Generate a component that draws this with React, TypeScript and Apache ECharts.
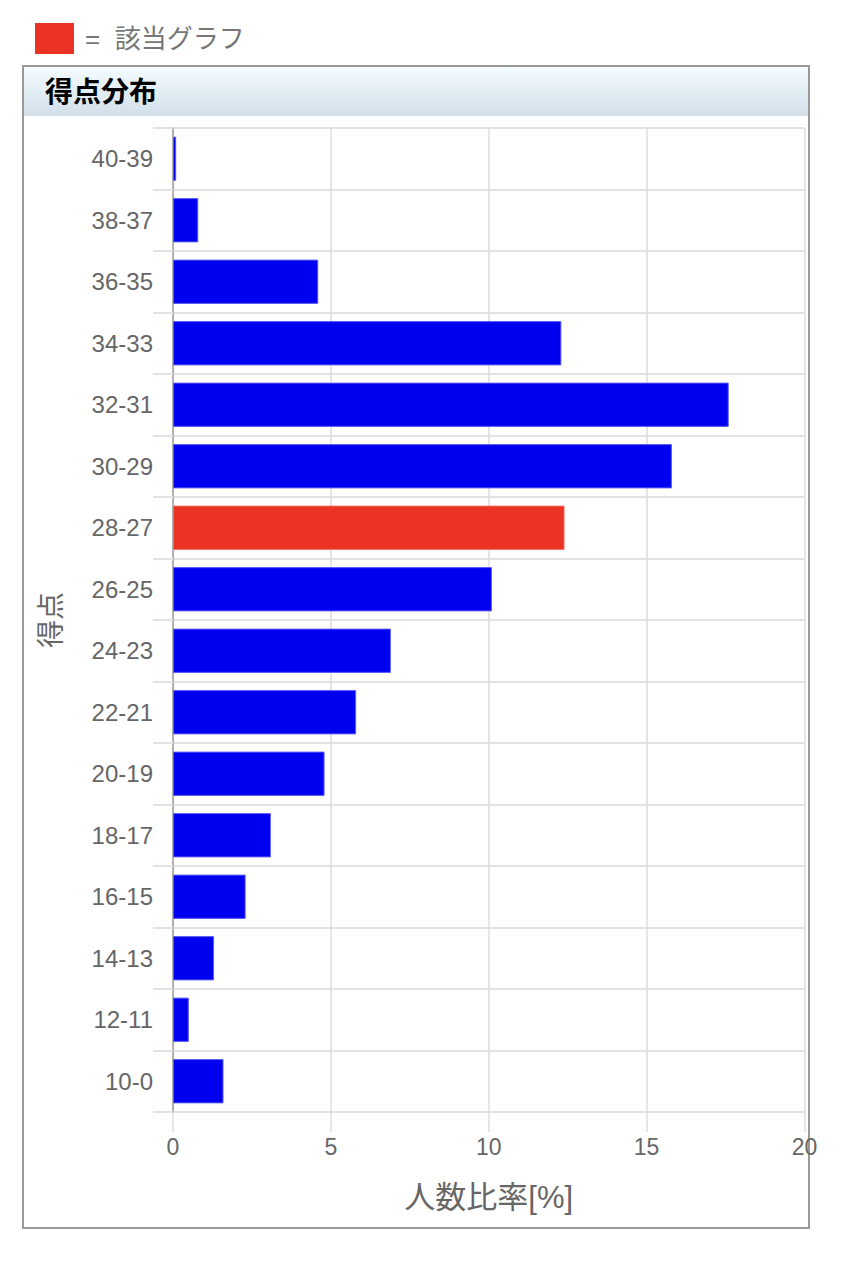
import React, { useEffect, useRef } from "react";
import * as echarts from "echarts";

const categories = [
  "40-39", "38-37", "36-35", "34-33", "32-31", "30-29", "28-27", "26-25",
  "24-23", "22-21", "20-19", "18-17", "16-15", "14-13", "12-11", "10-0",
];
const ratios = [0.1, 0.8, 4.6, 12.3, 17.6, 15.8, 12.4, 10.1, 6.9, 5.8, 4.8, 3.1, 2.3, 1.3, 0.5, 1.6];
const highlighted = "28-27";
const xTicks = { min: 0, max: 20, interval: 5 };
const titleText = "得点分布";
const legendText = "=  該当グラフ";
const xName = "人数比率[%]";
const yName = "得点";

const BLUE = "#0000f0";
const RED = "#ea3323";
const FONT = "'Liberation Sans', 'Noto Sans CJK JP', sans-serif";

export default function App() {
  const ref = useRef<HTMLDivElement>(null);
  useEffect(() => {
    if (!ref.current) return;
    const chart = echarts.init(ref.current, undefined, { renderer: "svg" });
    chart.setOption({
      animation: false,
      textStyle: { fontFamily: FONT },
      graphic: [
        { type: "rect", shape: { x: 35, y: 23, width: 39, height: 31 }, style: { fill: RED } },
        {
          type: "text", x: 85, y: 39,
          style: { text: legendText, fill: "#777", font: `26px ${FONT}`, textVerticalAlign: "middle" },
        },
        {
          type: "rect", z: -10,
          shape: { x: 23, y: 66, width: 786, height: 1162 },
          style: { fill: "#fff", stroke: "#999", lineWidth: 2 },
        },
        {
          type: "rect", z: -9,
          shape: { x: 24, y: 67, width: 784, height: 49 },
          style: {
            fill: new echarts.graphic.LinearGradient(0, 0, 0, 1, [
              { offset: 0, color: "#f4fcfe" },
              { offset: 1, color: "#d2dfea" },
            ]),
          },
        },
        {
          type: "text", x: 45, y: 92,
          style: { text: titleText, fill: "#000", font: `bold 28px ${FONT}`, textVerticalAlign: "middle" },
        },
      ],
      grid: { left: 173, top: 128, width: 631.5, height: 984, containLabel: false },
      xAxis: {
        type: "value",
        min: xTicks.min,
        max: xTicks.max,
        interval: xTicks.interval,
        name: xName,
        nameLocation: "middle",
        nameGap: 70,
        nameTextStyle: { fontSize: 31, color: "#666", fontFamily: FONT },
        axisLine: { show: false },
        axisTick: { show: true, length: 20, lineStyle: { color: "#dcdcdc", width: 1.5 } },
        axisLabel: { fontSize: 23, color: "#666", margin: 23, fontFamily: FONT },
        splitLine: { show: true, lineStyle: { color: "#dcdcdc", width: 1.5 } },
      },
      yAxis: {
        type: "category",
        inverse: true,
        data: categories,
        name: yName,
        nameLocation: "middle",
        nameGap: 108,
        nameTextStyle: { fontSize: 28, color: "#666", fontFamily: FONT },
        axisLine: { show: true, lineStyle: { color: "#a0a0a0", width: 1.5 } },
        axisTick: { show: true, length: 20, lineStyle: { color: "#e2e2e2", width: 2 } },
        axisLabel: { fontSize: 24, color: "#666", margin: 20, fontFamily: FONT },
        splitLine: { show: true, lineStyle: { color: "#e2e2e2", width: 2 } },
      },
      series: [
        {
          type: "bar",
          barCategoryGap: "28%",
          data: categories.map((c, i) => ({
            value: ratios[i],
            itemStyle: {
              color: c === highlighted ? RED : BLUE,
              borderColor: c === highlighted ? "#f06a5e" : "#5a5af2",
              borderWidth: 1,
            },
          })),
        },
      ],
    });
    return () => chart.dispose();
  }, []);
  return (
    <div
      ref={ref}
      style={{ position: "absolute", left: 0, top: 0, width: 858, height: 1276 }}
    />
  );
}
